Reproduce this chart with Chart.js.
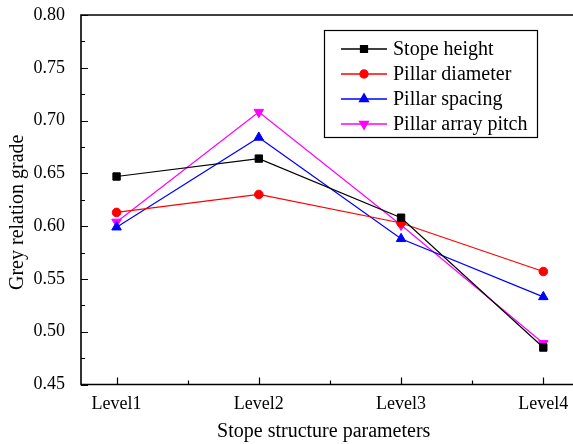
<!DOCTYPE html>
<html>
<head>
<meta charset="utf-8">
<script src="https://cdn.jsdelivr.net/npm/chart.js@4"></script>
<style>
  html, body { margin: 0; background: #fff; overflow: hidden; }
  #wrap { width: 573px; height: 444px; }
</style>
</head>
<body>
<div id="wrap"><canvas id="myChart" width="573" height="444"></canvas></div>
<script>
const categories = ["Level1", "Level2", "Level3", "Level4"];
const stopeHeight = [0.647, 0.664, 0.608, 0.485];
const pillarDiameter = [0.613, 0.630, 0.603, 0.557];
const pillarSpacing = [0.599, 0.684, 0.588, 0.533];
const pillarArrayPitch = [0.604, 0.708, 0.601, 0.489];
const yTicks = [0.45, 0.50, 0.55, 0.60, 0.65, 0.70, 0.75, 0.80];

const FONT = "'Liberation Serif', 'Times New Roman', serif";

function pts(arr) {
  return arr.map((v, i) => ({ x: i + 1, y: v }));
}

// frame, inward ticks and the boxed legend
const extras = {
  id: "extras",
  afterDraw(chart) {
    const c = chart.ctx;
    const a = chart.chartArea;
    const xs = chart.scales.x;
    const ys = chart.scales.y;
    c.save();
    c.strokeStyle = "#000";
    c.lineWidth = 1.6;
    c.beginPath();
    c.moveTo(chart.width, a.top);
    c.lineTo(a.left, a.top);
    c.lineTo(a.left, a.bottom);
    c.lineTo(chart.width, a.bottom);
    c.stroke();

    // ticks, pointing into the plot
    c.lineWidth = 1.2;
    c.beginPath();
    for (let i = 0; i < yTicks.length; i++) {
      const py = Math.round(ys.getPixelForValue(yTicks[i])) + 0.5;
      c.moveTo(a.left, py);
      c.lineTo(a.left + 7, py);
      if (i < yTicks.length - 1) {
        const pm = Math.round(ys.getPixelForValue((yTicks[i] + yTicks[i + 1]) / 2)) + 0.5;
        c.moveTo(a.left, pm);
        c.lineTo(a.left + 4, pm);
      }
    }
    for (let i = 0; i < categories.length; i++) {
      const px = Math.round(xs.getPixelForValue(i + 1)) + 0.5;
      c.moveTo(px, a.bottom);
      c.lineTo(px, a.bottom - 7);
      const pm = Math.round(xs.getPixelForValue(i + 1.5)) + 0.5;
      c.moveTo(pm, a.bottom);
      c.lineTo(pm, a.bottom - 4);
    }
    c.stroke();

    // legend
    const bx = 324, by = 30, bw = 213, bh = 107;
    c.lineWidth = 1.2;
    c.strokeRect(bx + 0.5, by + 0.5, bw, bh);
    c.font = "20px " + FONT;
    c.textBaseline = "middle";
    chart.data.datasets.forEach((ds, i) => {
      const y = by + 19 + i * 25;
      c.strokeStyle = ds.borderColor;
      c.fillStyle = ds.backgroundColor;
      c.lineWidth = 1.3;
      c.beginPath();
      c.moveTo(bx + 17, y);
      c.lineTo(bx + 63, y);
      c.stroke();
      Chart.helpers.drawPoint(c, {
        pointStyle: ds.pointStyle,
        radius: ds.pointRadius - 0.3,
        rotation: ds.pointRotation || 0,
        borderWidth: 1
      }, bx + 40, y);
      c.fillStyle = "#000";
      c.fillText(ds.label, bx + 69, y + 1);
    });
    c.restore();
  }
};

function series(label, data, color, style, radius, rotation) {
  return {
    label: label,
    data: pts(data),
    borderColor: color,
    backgroundColor: color,
    pointBackgroundColor: color,
    pointBorderColor: color,
    borderWidth: 1.2,
    pointBorderWidth: 1,
    pointStyle: style,
    pointRadius: radius,
    pointRotation: rotation || 0,
    fill: false,
    tension: 0
  };
}

const ctx = document.getElementById("myChart").getContext("2d");
const chart = new Chart(ctx, {
  type: "line",
  data: {
    datasets: [
      series("Stope height", stopeHeight, "#000000", "rect", 5.2),
      series("Pillar diameter", pillarDiameter, "#ff0000", "circle", 4.3),
      series("Pillar spacing", pillarSpacing, "#0000ff", "triangle", 5.5),
      series("Pillar array pitch", pillarArrayPitch, "#ff00ff", "triangle", 5.5, 180)
    ]
  },
  options: {
    responsive: false,
    animation: false,
    layout: { padding: { left: 0, right: 0, top: 15, bottom: 0 } },
    plugins: { legend: { display: false }, tooltip: { enabled: false } },
    scales: {
      x: {
        type: "linear",
        min: 0.75,
        max: 4.163,
        afterBuildTicks: (s) => { s.ticks = categories.map((c, i) => ({ value: i + 1 })); },
        afterFit: (s) => { s.height = 59.5; s.paddingLeft = 0; s.paddingRight = 0; },
        border: { display: false },
        grid: { display: false },
        ticks: {
          color: "#000",
          font: { family: FONT, size: 18 },
          padding: 1,
          maxRotation: 0,
          callback: (v) => categories[Math.round(v) - 1]
        },
        title: {
          display: true,
          text: "Stope structure parameters",
          color: "#000",
          font: { family: FONT, size: 20 },
          padding: { top: 0, bottom: 0 }
        }
      },
      y: {
        min: 0.45,
        max: 0.80,
        afterBuildTicks: (s) => { s.ticks = yTicks.map((v) => ({ value: v })); },
        afterFit: (s) => { s.width = 81; s.paddingTop = 0; s.paddingBottom = 0; },
        border: { display: false },
        grid: { display: false },
        ticks: {
          color: "#000",
          font: { family: FONT, size: 18 },
          padding: 8,
          callback: (v) => v.toFixed(2)
        },
        title: {
          display: true,
          text: "Grey relation grade     ",
          color: "#000",
          font: { family: FONT, size: 20 },
          padding: { top: 6, bottom: 0 }
        }
      }
    }
  },
  plugins: [extras]
});
</script>
</body>
</html>
